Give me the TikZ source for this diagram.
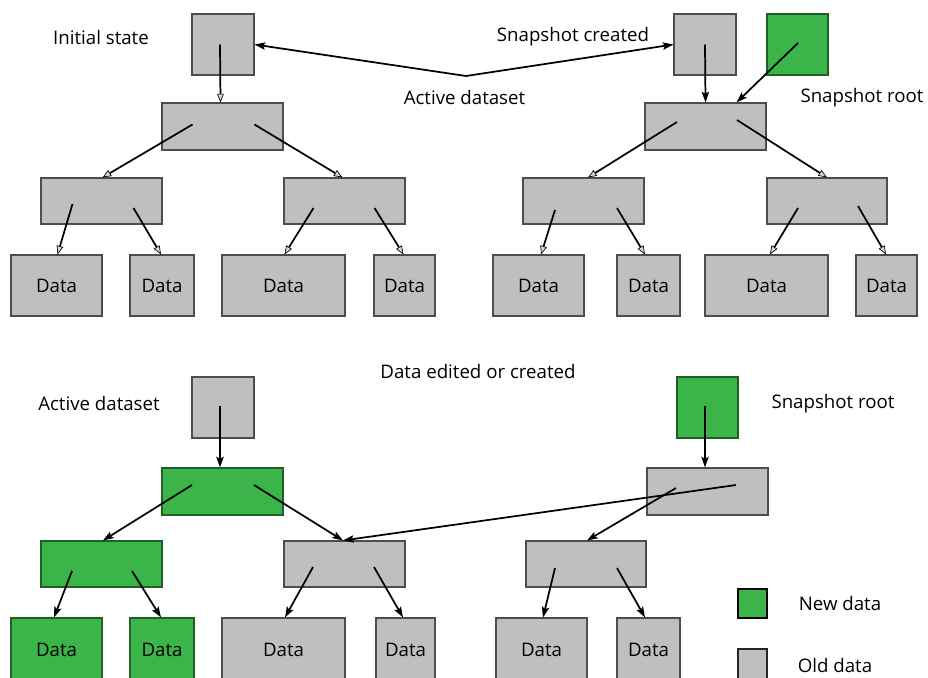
\documentclass[tikz,border=0pt]{standalone}
\usepackage{fontspec}
\setmainfont{Open Sans}
\usetikzlibrary{arrows.meta,fit,calc}
\definecolor{oldgray}{HTML}{BFBFBF}
\definecolor{boxline}{HTML}{4D4D4D}
\definecolor{newgreen}{HTML}{3BB44A}
\definecolor{greenline}{HTML}{1E6028}
\tikzset{
  box/.style={draw=boxline, fill=oldgray, line width=0.8pt, inner sep=0pt},
  nbox/.style={draw=greenline, fill=newgreen, line width=0.8pt, inner sep=0pt},
  lbl/.style={font=\fontsize{14}{16}\selectfont, inner sep=0pt},
  arrO/.style={line width=1.3pt, -{Triangle[length=6.5pt,width=5pt,line width=0.5pt,fill=oldgray!60]}},
  arrS/.style={line width=1.3pt, -{Stealth[length=8pt,width=5.5pt,inset=1.5pt]}},
}
\newcommand\dlab{\fontsize{14}{16}\selectfont Data}
\begin{document}
\begin{tikzpicture}[x=0.75pt,y=-0.75pt]
\useasboundingbox (0,0) rectangle (928,678);
\clip (0,0) rectangle (928,678);
% ================= TOP LEFT =================
\node[box, fit={(192,14)(254,75)}] (tlr) {};
\node[box, fit={(162,103)(283,150)}] (tl1) {};
\node[box, fit={(41,178)(162,224)}] (tl2a) {};
\node[box, fit={(284,178)(405,224)}] (tl2b) {};
\node[box, fit={(11,255)(102,316)}, label={center:\dlab}] (tld1) {};
\node[box, fit={(130,255)(194,316)}, label={center:\dlab}] (tld2) {};
\node[box, fit={(222,255)(345,316)}, label={center:\dlab}] (tld3) {};
\node[box, fit={(374,255)(435,316)}, label={center:\dlab}] (tld4) {};
\draw[arrO] ([shift={(-3,0)}]tlr.center) -- ([shift={(-2,0)}]tl1.north);
\draw[arrO] ([shift={(-30,-2)}]tl1.center) -- ([shift={(1,0)}]tl2a.north);
\draw[arrO] ([shift={(32,-2)}]tl1.center) -- ([shift={(-2,0)}]tl2b.north);
\draw[arrO] ([shift={(-29,3)}]tl2a.center) -- ([shift={(1,0)}]tld1.north);
\draw[arrO] ([shift={(32,7)}]tl2a.center) -- ([shift={(-1,0)}]tld2.north);
\draw[arrO] ([shift={(-31,7)}]tl2b.center) -- ([shift={(1,0)}]tld3.north);
\draw[arrO] ([shift={(30,7)}]tl2b.center) -- ([shift={(-1,0)}]tld4.north);
% ================= TOP RIGHT =================
\node[box, fit={(674,14)(736,75)}] (trr) {};
\node[nbox, fit={(767,14)(828,75)}] (trg) {};
\node[box, fit={(645,103)(766,150)}] (tr1) {};
\node[box, fit={(523,178)(644,224)}] (tr2a) {};
\node[box, fit={(767,178)(887,224)}] (tr2b) {};
\node[box, fit={(493,255)(584,316)}, label={center:\dlab}] (trd1) {};
\node[box, fit={(617,255)(680,316)}, label={center:\dlab}] (trd2) {};
\node[box, fit={(705,255)(828,316)}, label={center:\dlab}] (trd3) {};
\node[box, fit={(856,255)(917,316)}, label={center:\dlab}] (trd4) {};
\draw[arrS] (trr.center) -- ([shift={(0,0)}]tr1.north);
\draw[arrS] ([shift={(0.5,-1.5)}]trg.center) -- ([shift={(31,0)}]tr1.north);
\draw[arrO] ([shift={(-28.5,-4.5)}]tr1.center) -- ([shift={(4.5,0)}]tr2a.north);
\draw[arrO] ([shift={(31.5,-6.5)}]tr1.center) -- ([shift={(0,0)}]tr2b.north);
\draw[arrO] ([shift={(-28.5,9)}]tr2a.center) -- ([shift={(2.5,0)}]trd1.north);
\draw[arrO] ([shift={(33.5,7)}]tr2a.center) -- ([shift={(-3.5,0)}]trd2.north);
\draw[arrO] ([shift={(-29,7)}]tr2b.center) -- ([shift={(3.5,0)}]trd3.north);
\draw[arrO] ([shift={(31,5)}]tr2b.center) -- ([shift={(-0.5,0)}]trd4.north);
% Active dataset pointer
\coordinate (ad) at (466,76);
\draw[arrS] (ad) -- (tlr.east);
\draw[arrS] (ad) -- (trr.west);
% top labels
\node[lbl] (l1) at (101,37) {Initial state};
\node[lbl] (l2) at (573,37) {Snapshot created};
\node[lbl] (l3) at (464.5,97) {Active dataset};
\node[lbl] (l4) at (862,98) {Snapshot root};
% ================= BOTTOM LEFT =================
\node[box, fit={(192,377)(254,438)}] (blr) {};
\node[nbox, fit={(162,468)(283,515)}] (bl1) {};
\node[nbox, fit={(41,541)(162,587)}] (bl2a) {};
\node[box, fit={(284,541)(405,587)}] (bl2b) {};
\node[nbox, fit={(11,618)(102,690)}, label={[yshift=3pt]center:\dlab}] (bld1) {};
\node[nbox, fit={(130,618)(194,690)}, label={[yshift=3pt]center:\dlab}] (bld2) {};
\node[box, fit={(222,618)(345,690)}, label={[yshift=3pt]center:\dlab}] (bld3) {};
\node[box, fit={(376,618)(435,690)}, label={[yshift=3pt]center:\dlab}] (bld4) {};
\draw[arrS] ([shift={(-3,-1.5)}]blr.center) -- ([shift={(-2.5,0)}]bl1.north);
\draw[arrS] ([shift={(-30.5,-6.5)}]bl1.center) -- ([shift={(1.5,0)}]bl2a.north);
\draw[arrS] ([shift={(31.5,-6.5)}]bl1.center) -- ([shift={(-1.5,0)}]bl2b.north);
\draw[arrS] ([shift={(-29.5,7)}]bl2a.center) -- ([shift={(-2.5,0)}]bld1.north);
\draw[arrS] ([shift={(30.5,7)}]bl2a.center) -- ([shift={(-1,0)}]bld2.north);
\draw[arrS] ([shift={(-31.5,3)}]bl2b.center) -- ([shift={(1.5,0)}]bld3.north);
\draw[arrS] ([shift={(29.5,3)}]bl2b.center) -- ([shift={(-2.5,0)}]bld4.north);
% ================= BOTTOM RIGHT =================
\node[nbox, fit={(677,377)(738,438)}] (brr) {};
\node[box, fit={(647,468)(768,515)}] (br1) {};
\node[box, fit={(526,541)(646,587)}] (br2) {};
\node[box, fit={(496,618)(587,690)}, label={[yshift=3pt]center:\dlab}] (brd1) {};
\node[box, fit={(617,618)(680,690)}, label={[yshift=3pt]center:\dlab}] (brd2) {};
\draw[arrS] ([shift={(-2.5,-1.5)}]brr.center) -- ([shift={(-2.5,0)}]br1.north);
\draw[arrS] ([shift={(28.5,-6.5)}]br1.center) -- ([shift={(-1.5,0)}]bl2b.north);
\draw[arrS] ([shift={(-31.5,-3.5)}]br1.center) -- ([shift={(1,0)}]br2.north);
\draw[arrS] ([shift={(-31,4)}]br2.center) -- ([shift={(1.5,0)}]brd1.north);
\draw[arrS] ([shift={(31,4)}]br2.center) -- ([shift={(-3.5,0)}]brd2.north);
% bottom labels
\node[lbl] (l5) at (478,371) {Data edited or created};
\node[lbl] (l6) at (99,403) {Active dataset};
\node[lbl] (l7) at (833,404) {Snapshot root};
% legend
\node[draw=black, fill=newgreen, line width=1.5pt, inner sep=0pt, fit={(738,589)(767,618)}] (lgn) {};
\node[draw=black!85, fill=oldgray, line width=1.5pt, inner sep=0pt, fit={(738,649)(767,690)}] (lgo) {};
\node[lbl] (l8) at (840,603) {New data};
\node[lbl] (l9) at (835,665) {Old data};
\end{tikzpicture}
\end{document}
